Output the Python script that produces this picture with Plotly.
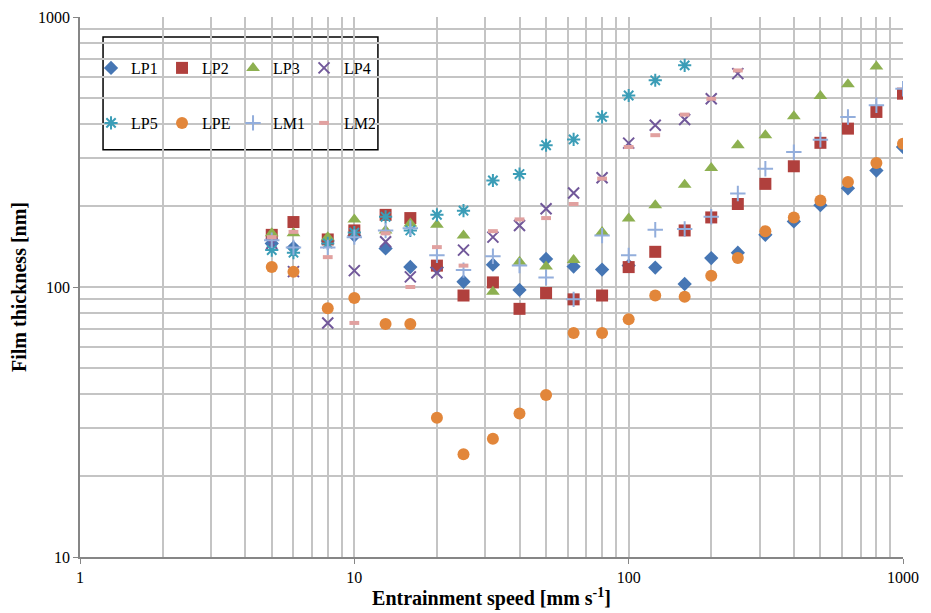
import plotly.graph_objects as go

speeds = [5, 6, 8, 10, 13, 16, 20, 25, 32, 40, 50, 63, 80, 100, 125, 160, 200, 250, 315, 400, 500, 630, 800, 1000]

lp1 = [145, 140, 148, 155, 139, 118.6, 118, 104.6, 121, 97.5, 127, 119, 116, 120, 118, 102.6, 128, 134, 156, 175, 201, 232, 270, 330]
lp2 = [156, 174, 150, 162, 185, 180, 120, 93, 104, 83, 95, 90, 93, 118.5, 135, 162, 181, 203, 241, 280, 342, 386, 445, 520]
lp3 = [158, 158, 153, 178, 162, 172, 170, 155, 96, 124, 119, 126, 160, 179.5, 201, 239, 276, 335, 365, 429, 510, 563, 656]
lp4 = [145, 114, 73.6, 115, 147, 109, 113, 137, 153, 169, 195, 223, 254, 341, 397, 417, 498, 617]
lp5 = [137, 134, 145, 159, 182, 162, 185, 191.7, 248, 262, 335, 352, 427, 512, 583, 662]
lpe = [118.6, 114, 83.5, 91, 73, 73, 32.8, 24, 27.4, 34, 39.8, 67.6, 67.6, 76, 93, 92, 110, 128, 161, 181, 209, 245, 288, 339]
lm1 = [149, 140, 140, 153, 162, 165, 131, 115.5, 130, 120, 108.5, 90, 155, 131, 163, 164, 182, 222, 274, 316, 351, 426, 471, 542]
lm2 = [153, 160, 129, 73.6, 158, 100, 140.5, 120, 161, 178, 180, 203, 252, 330, 365, 435, 498, 634]

x_ticks = [1, 10, 100, 1000]
y_ticks = [10, 100, 1000]

series = [
    ("LP1", lp1, "diamond", "#4676B4", 11, 0, "legend"),
    ("LP2", lp2, "square", "#B0403D", 12, 0, "legend"),
    ("LP3", lp3, "triangle-up", "#8DB050", 12, 0, "legend"),
    ("LP4", lp4, "x-thin-open", "#71589A", 11, 2, "legend"),
    ("LP5", lp5, "asterisk-open", "#3B9DB7", 11, 2, "legend2"),
    ("LPE", lpe, "circle", "#E2863A", 12, 0, "legend2"),
    ("LM1", lm1, "cross-thin-open", "#93AEDC", 11, 2, "legend2"),
    ("LM2", lm2, "line-ew-open", "#E1A1A0", 7, 4, "legend2"),
]

fig = go.Figure()
for name, vals, sym, col, size, lw, lg in series:
    marker = dict(symbol=sym, color=col, size=size)
    if lw:
        marker["line"] = dict(color=col, width=lw)
    else:
        marker["line"] = dict(width=0)
    fig.add_trace(go.Scatter(
        x=speeds[:len(vals)], y=vals, mode="markers", name=name,
        marker=marker, legend=lg,
    ))

font_family = "Liberation Serif, Times New Roman, serif"
grid = "#C4C4C4"

legend_common = dict(
    orientation="h", bgcolor="rgba(0,0,0,0)", borderwidth=0,
    font=dict(family=font_family, size=16, color="#000"),
    entrywidth=26, entrywidthmode="pixels",
    xanchor="left", yanchor="middle", itemwidth=30, tracegroupgap=0,
)

fig.update_layout(
    width=931, height=613,
    margin=dict(l=72, r=36, t=9, b=64, autoexpand=False),
    paper_bgcolor="white", plot_bgcolor="white",
    font=dict(family=font_family, size=16, color="#000"),
    showlegend=True,
    legend=dict(x=0.0134, y=0.9056, **legend_common),
    legend2=dict(x=0.0134, y=0.8037, **legend_common),
    shapes=[dict(type="rect", xref="paper", yref="paper",
                 x0=0.028, x1=0.362, y0=0.754, y1=0.963,
                 line=dict(color="#000", width=1.5), fillcolor="white", layer="below")],
    xaxis=dict(
        type="log", range=[0, 3], tickvals=x_ticks, ticktext=[str(v) for v in x_ticks],
        ticks="outside", ticklen=5, tickcolor="#868686",
        showline=True, linecolor="#868686", linewidth=1.5,
        showgrid=True, gridcolor=grid, gridwidth=1.5,
        minor=dict(dtick="D1", showgrid=True, gridcolor=grid, gridwidth=1.5, ticks=""),
        zeroline=False, automargin=False,
        tickfont=dict(family=font_family, size=16),
        title=dict(text="<b>Entrainment speed [mm s<sup>-1</sup>]</b>",
                   font=dict(family=font_family, size=20), standoff=6),
    ),
    yaxis=dict(
        type="log", range=[1, 3], tickvals=y_ticks, ticktext=[str(v) for v in y_ticks],
        ticks="outside", ticklen=5, tickcolor="#868686",
        showline=True, linecolor="#868686", linewidth=1.5,
        showgrid=True, gridcolor=grid, gridwidth=1.5,
        minor=dict(dtick="D1", showgrid=True, gridcolor=grid, gridwidth=1.5, ticks=""),
        zeroline=False, automargin=False,
        tickfont=dict(family=font_family, size=16),
        title=dict(text="<b>Film thickness [nm]</b>",
                   font=dict(family=font_family, size=20), standoff=8),
    ),
)

fig.write_html("out.html")
